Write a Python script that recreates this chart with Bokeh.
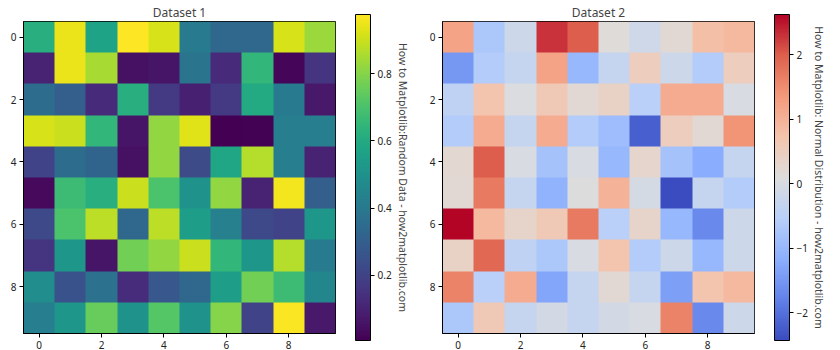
import numpy as np
from bokeh.plotting import figure
from bokeh.models import (LinearColorMapper, ColorBar, FixedTicker, Range1d, Title)
from bokeh.layouts import row
from bokeh.palettes import Viridis256
from bokeh.embed import file_html
from bokeh.resources import INLINE

FONT = "Noto Sans"

title1 = "Dataset 1"
title2 = "Dataset 2"
cbar_label1 = "How to Matplotlib:Random Data - how2matplotlib.com"
cbar_label2 = "How to Matplotlib: Normal Distribution - how2matplotlib.com"

axis_ticks = [0, 2, 4, 6, 8]
cbar_ticks1 = [0.2, 0.4, 0.6, 0.8]
cbar_ticks2 = [-2, -1, 0, 1, 2]

data1 = [
    [0.62, 0.95, 0.57, 0.977, 0.92, 0.40, 0.33, 0.33, 0.92, 0.83],
    [0.10, 0.95, 0.85, 0.05, 0.06, 0.38, 0.12, 0.65, 0.02, 0.15],
    [0.35, 0.30, 0.12, 0.62, 0.17, 0.09, 0.17, 0.60, 0.40, 0.07],
    [0.92, 0.90, 0.65, 0.06, 0.82, 0.93, 0.005, 0.01, 0.42, 0.42],
    [0.20, 0.35, 0.32, 0.05, 0.82, 0.23, 0.58, 0.87, 0.42, 0.10],
    [0.03, 0.67, 0.62, 0.90, 0.70, 0.50, 0.82, 0.10, 0.96, 0.30],
    [0.22, 0.70, 0.88, 0.33, 0.88, 0.55, 0.43, 0.22, 0.20, 0.52],
    [0.15, 0.52, 0.06, 0.77, 0.82, 0.90, 0.65, 0.52, 0.87, 0.40],
    [0.48, 0.25, 0.37, 0.13, 0.27, 0.33, 0.55, 0.77, 0.67, 0.45],
    [0.42, 0.52, 0.75, 0.50, 0.72, 0.50, 0.80, 0.20, 0.97, 0.07],
]

data2 = [
    [1.2, -0.7, -0.2, 2.3, 2.0, 0.15, -0.15, 0.2, 0.8, 0.9],
    [-1.5, -0.6, -0.3, 1.2, -1.0, -0.3, 0.5, -0.2, -0.6, 0.5],
    [-0.4, 0.7, 0.05, 0.6, 0.2, 0.4, -0.5, 1.1, 1.1, 0.0],
    [-0.6, 1.1, -0.3, 1.1, -0.6, -0.9, -2.2, 0.5, 0.2, 1.4],
    [0.25, 2.0, 0.0, -0.8, 0.0, -1.0, 0.3, -0.8, -1.2, -0.3],
    [0.2, 1.7, -0.3, -1.1, 0.1, 1.0, -0.05, -2.43, -0.3, -0.6],
    [2.62, 0.9, 0.35, 0.6, 1.7, -0.5, 0.35, -1.0, -1.7, -0.2],
    [0.4, 1.9, -0.4, -0.7, 0.0, 0.7, -0.6, -0.2, -1.0, -0.2],
    [1.6, -0.5, 1.1, -1.3, -0.3, 0.2, -0.3, -1.4, 0.7, 0.9],
    [-0.7, 0.6, -0.3, -0.1, -0.3, -0.1, 0.0, 1.6, -1.7, -0.2],
]

# coolwarm colormap anchors (matplotlib)
cw_pos = [0.0, 0.125, 0.25, 0.375, 0.5, 0.625, 0.75, 0.875, 1.0]
cw_rgb = [
    (0.2298, 0.2987, 0.7537),
    (0.3830, 0.5094, 0.9174),
    (0.5530, 0.6889, 0.9954),
    (0.7222, 0.8140, 0.9766),
    (0.8654, 0.8654, 0.8654),
    (0.9589, 0.7698, 0.6780),
    (0.9580, 0.6028, 0.4818),
    (0.8692, 0.3783, 0.3003),
    (0.7057, 0.0156, 0.1502),
]


def coolwarm(n=256):
    t = np.linspace(0, 1, n)
    arr = np.array(cw_rgb)
    cols = []
    for ti in t:
        r = np.interp(ti, cw_pos, arr[:, 0])
        g = np.interp(ti, cw_pos, arr[:, 1])
        b = np.interp(ti, cw_pos, arr[:, 2])
        cols.append("#%02x%02x%02x" % (int(round(r * 255)), int(round(g * 255)), int(round(b * 255))))
    return cols


def make_panel(data, palette, title, label, cticks, left_border, right_border):
    arr = np.array(data, dtype=float)
    mapper = LinearColorMapper(palette=palette, low=arr.min(), high=arr.max())
    p = figure(frame_width=312, frame_height=312,
               x_range=Range1d(-0.5, 9.5), y_range=Range1d(9.5, -0.5),
               output_backend="svg", toolbar_location=None, tools="",
               min_border_left=left_border, min_border_right=right_border,
               min_border_top=0, min_border_bottom=0)
    p.image(image=[arr], x=-0.5, y=-0.5, dw=10, dh=10, color_mapper=mapper)
    p.title.text = title
    p.title.align = "center"
    p.title.text_font = FONT
    p.title.text_font_size = "12px"
    p.title.text_font_style = "normal"
    p.title.standoff = 2
    p.grid.visible = False
    p.outline_line_color = "black"
    p.outline_line_width = 1
    for ax in (p.xaxis[0], p.yaxis[0]):
        ax.ticker = FixedTicker(ticks=axis_ticks)
        ax.major_label_text_font = FONT
        ax.major_label_text_font_size = "10px"
        ax.major_label_text_color = "#222222"
        ax.major_tick_in = 0
        ax.major_tick_out = 4
        ax.minor_tick_out = 0
        ax.minor_tick_in = 0
        ax.axis_line_color = "black"
        ax.major_tick_line_color = "black"
        ax.major_label_standoff = 3
    cb = ColorBar(color_mapper=mapper, ticker=FixedTicker(ticks=cticks),
                  width=15, height=326, padding=0, location=(20, -7),
                  bar_line_color="black", bar_line_width=1,
                  major_tick_in=0, major_tick_out=4,
                  major_tick_line_color="black",
                  minor_tick_line_color=None,
                  major_label_text_font=FONT,
                  major_label_text_font_size="10px",
                  major_label_text_color="#222222",
                  label_standoff=3,
                  border_line_color=None, background_fill_color=None)
    p.add_layout(cb, "right")
    t = Title(text=label, align="center", text_font=FONT,
              text_font_size="10.5px", text_font_style="normal", standoff=2)
    p.add_layout(t, "right")
    return p


p1 = make_panel(data1, Viridis256, title1, cbar_label1, cbar_ticks1, 23, 10)
p2 = make_panel(data2, coolwarm(), title2, cbar_label2, cbar_ticks2, 30, 5)

layout = row(p1, p2, spacing=0)
open("out.html", "w").write(file_html(layout, INLINE))
